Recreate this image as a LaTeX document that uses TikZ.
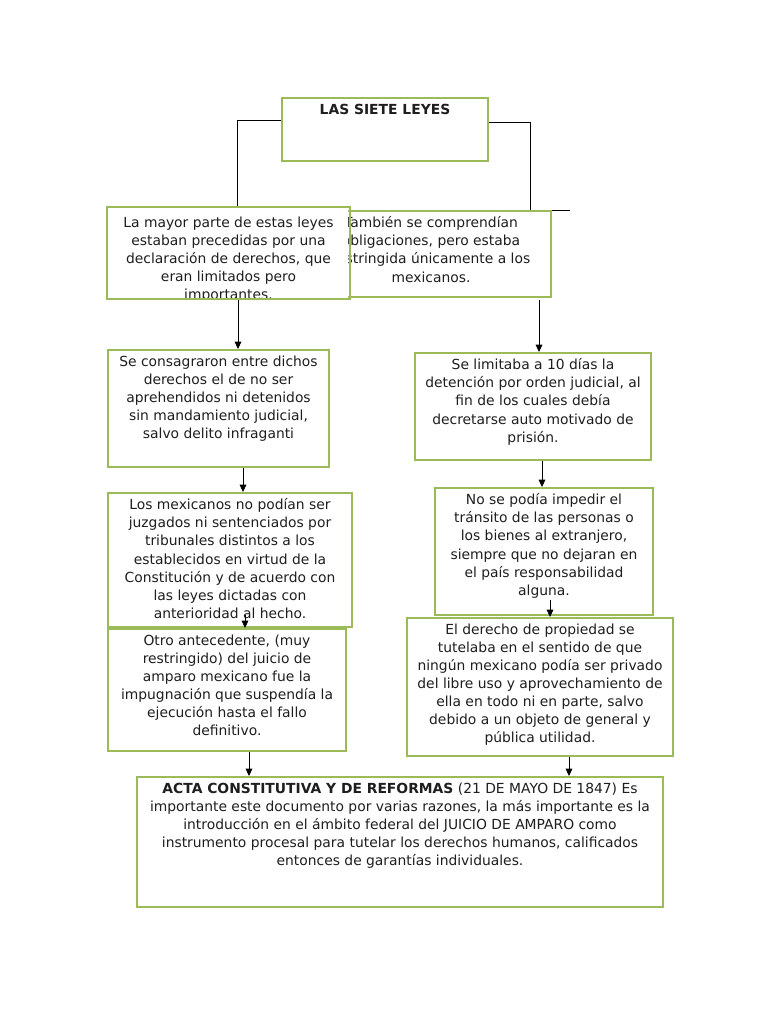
\documentclass[tikz,border=0pt]{standalone}
\usepackage{fontspec}
\setmainfont{DejaVu Sans}
\usepackage{xcolor}
\usepackage{tikz}
\usetikzlibrary{arrows.meta}

\definecolor{verde}{HTML}{9BBB59}
\definecolor{texto}{HTML}{1E1E1E}
\newdimen\px \px=0.75pt
% text block of fixed size, top aligned
\newcommand{\cajatexto}[3]{\parbox[t][#2\px][t]{#1\px}{\centering\vspace*{4.2pt}#3}}

\begin{document}
\begin{tikzpicture}[
  x=0.75pt, y=-0.75pt,
  caja/.style={draw=verde, line width=1.5pt, fill=white, anchor=north west,
               inner sep=0pt, text=texto,
               font=\fontsize{10.4pt}{13.6pt}\selectfont},
  flecha/.style={-{Triangle[length=5.5pt,width=5pt]}, line width=0.6pt},
  linea/.style={line width=0.6pt}
]
  \useasboundingbox[fill=white] (0,0) rectangle (768,1024);

  \node[caja] (titulo)  at (281,97)  {\cajatexto{206}{63}{\vspace*{0.6pt}\textbf{LAS SIETE LEYES}}};
  \coordinate (cola) at (570,210);
  \draw[linea] (titulo.west |- 0,120) -| (237,207);
  \draw[linea] (titulo.east |- 0,122) -| (530,210) -- (cola);

  \node[caja] (tambien) at (310,210) {\cajatexto{240}{86}{También se comprendían\\obligaciones, pero estaba\\restringida únicamente a los\\mexicanos.}};
  \begin{scope}
    \clip (107,207) rectangle (348,297);
    \node[caja, draw=none] (mayor) at (107,207) {\cajatexto{241}{90}{\vspace*{2.2pt}La mayor parte de estas leyes\\estaban precedidas por una\\declaración de derechos, que\\eran limitados pero\\importantes.}};
  \end{scope}
  \draw[draw=verde, line width=1.5pt] (mayor.south west) rectangle (mayor.north east);

  \node[caja] (cons)      at (107,349) {\cajatexto{221}{117}{Se consagraron entre dichos\\derechos el de no ser\\aprehendidos ni detenidos\\sin mandamiento judicial,\\salvo delito infraganti}};
  \node[caja] (limita)    at (414,352) {\cajatexto{236}{107}{Se limitaba a 10 días la\\detención por orden judicial, al\\fin de los cuales debía\\decretarse auto motivado de\\prisión.}};
  \node[caja] (mexic)     at (107,492) {\cajatexto{244}{134}{Los mexicanos no podían ser\\juzgados ni sentenciados por\\tribunales distintos a los\\establecidos en virtud de la\\Constitución y de acuerdo con\\las leyes dictadas con\\anterioridad al hecho.}};
  \node[caja] (impedir)   at (434,487) {\cajatexto{218}{127}{No se podía impedir el\\tránsito de las personas o\\los bienes al extranjero,\\siempre que no dejaran en\\el país responsabilidad\\alguna.}};
  \node[caja] (otro)      at (107,628) {\cajatexto{238}{122}{Otro antecedente, (muy\\restringido) del juicio de\\amparo mexicano fue la\\impugnación que suspendía la\\ejecución hasta el fallo\\definitivo.}};
  \node[caja] (propiedad) at (406,617) {\cajatexto{266}{138}{El derecho de propiedad se\\tutelaba en el sentido de que\\ningún mexicano podía ser privado\\del libre uso y aprovechamiento de\\ella en todo ni en parte, salvo\\debido a un objeto de general y\\pública utilidad.}};
  \node[caja] (acta)      at (136,776) {\cajatexto{526}{130}{\textbf{ACTA CONSTITUTIVA Y DE REFORMAS} (21 DE MAYO DE 1847) Es\\importante este documento por varias razones, la más importante es la\\introducción en el ámbito federal del JUICIO DE AMPARO como\\instrumento procesal para tutelar los derechos humanos, calificados\\entonces de garantías individuales.}};

  % flechas
  \coordinate (alhecho) at (245,615);
  \coordinate (alguna)  at (550,600);
  \draw[flecha] (238,300) -- (cons.north -| 238,0);
  \draw[flecha] (539,300) -- (limita.north -| 539,0);
  \draw[flecha] (cons.south -| 243,0) -- (mexic.north -| 243,0);
  \draw[flecha] (limita.south -| 542,0) -- (impedir.north -| 542,0);
  \draw[flecha] (alhecho) -- (otro.north -| alhecho);
  \draw[flecha] (alguna) -- (propiedad.north -| alguna);
  \draw[flecha] (otro.south -| 249,0) -- (acta.north -| 249,0);
  \draw[flecha] (propiedad.south -| 569,0) -- (acta.north -| 569,0);
\end{tikzpicture}
\end{document}
